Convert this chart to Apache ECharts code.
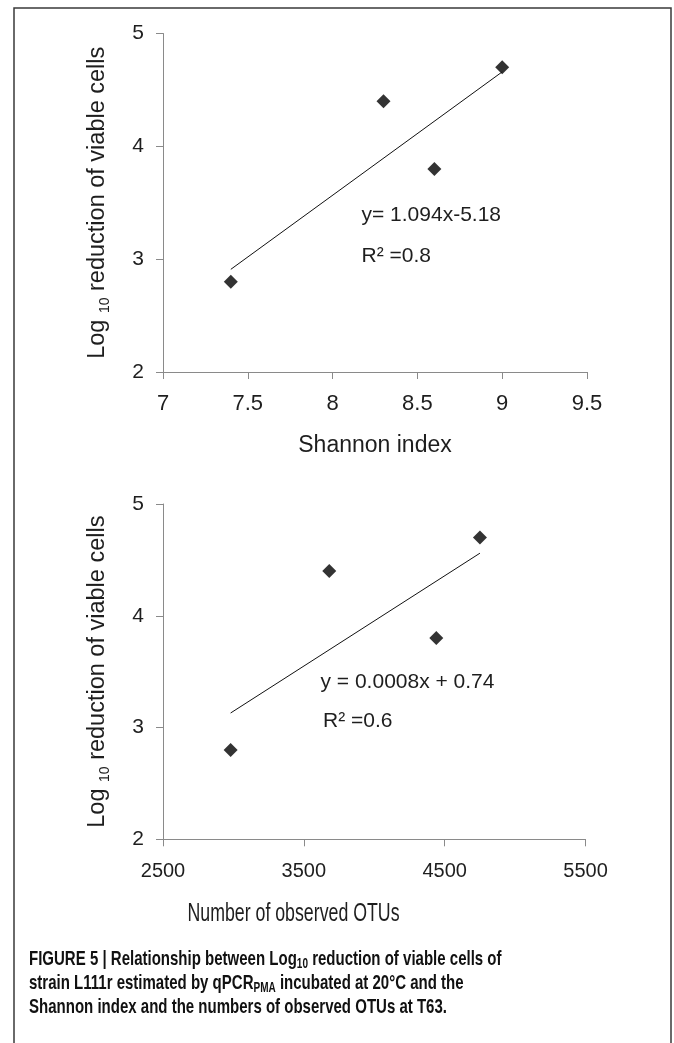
<!DOCTYPE html>
<html style="height: 100%">
<head>
    <meta charset="utf-8">
    <script src="https://cdn.jsdelivr.net/npm/echarts@6/dist/echarts.min.js"></script>
</head>
<body style="height: 100%; margin: 0; background: #fff">
<div id="fig" style="width: 674px; height: 1043px;"></div>
<script type="text/javascript">
    // top panel: Shannon index vs log10 reduction
    const shannonX = [7.4, 8.3, 8.6, 9.0];
    const reductionTop = [2.8, 4.4, 3.8, 4.7];
    const trendTopX = [7.4, 9.0];
    const trendTopY = [2.91, 4.66];
    const eqTop = ['y= 1.094x-5.18', 'R² =0.8'];

    // bottom panel: observed OTUs vs log10 reduction
    const otuX = [2980, 3680, 4440, 4750];
    const reductionBottom = [2.8, 4.4, 3.8, 4.7];
    const trendBottomX = [2980, 4750];
    const trendBottomY = [3.13, 4.56];
    const eqBottom = ['y = 0.0008x + 0.74', 'R² =0.6'];
    const otuTitle = 'Number of observed OTUs';

    const captionLines = [
        'FIGURE 5 | Relationship between Log{sub|10} reduction of viable cells of',
        'strain L111r estimated by qPCR{sub|PMA} incubated at 20°C and the',
        'Shannon index and the numbers of observed OTUs at T63.'
    ];

    const FONT = 'Liberation Sans, Arial, Helvetica, sans-serif';
    const TXT = '#1e1e1e';
    const AX = '#8a8a8a';

    function pairs(xs, ys) {
        let res = [];
        for (let i = 0; i < xs.length; i++) res.push([xs[i], ys[i]]);
        return res;
    }

    function yAxisFor(idx) {
        return {
            gridIndex: idx,
            type: 'value',
            min: 2, max: 5, interval: 1,
            name: 'Log {sub|10} reduction of viable cells',
            nameLocation: 'middle',
            nameGap: 51,
            nameTextStyle: {
                fontFamily: FONT, fontSize: 23.5, color: TXT, lineHeight: 28,
                rich: {sub: {fontFamily: FONT, fontSize: 14, color: TXT, lineHeight: 14, verticalAlign: 'bottom'}}
            },
            axisLine: {show: true, lineStyle: {color: AX, width: 1}},
            axisTick: {show: true, length: 7, lineStyle: {color: AX}},
            axisLabel: {fontFamily: FONT, fontSize: 21, color: TXT, margin: 19},
            splitLine: {show: false}
        };
    }

    const chart = echarts.init(document.getElementById('fig'), null, {renderer: 'canvas'});

    const option = {
        backgroundColor: '#fff',
        animation: false,
        grid: [
            {left: 163, top: 33.5, width: 424, height: 338.5},
            {left: 163, top: 504, width: 422.6, height: 335.3}
        ],
        xAxis: [{
            gridIndex: 0,
            type: 'value',
            min: 7, max: 9.5, interval: 0.5,
            name: 'Shannon index',
            nameLocation: 'middle',
            nameGap: 62,
            nameTextStyle: {fontFamily: FONT, fontSize: 23, color: TXT},
            axisLine: {lineStyle: {color: AX, width: 1}},
            axisTick: {length: 7, lineStyle: {color: AX}},
            axisLabel: {fontFamily: FONT, fontSize: 22, color: TXT, margin: 21},
            splitLine: {show: false}
        }, {
            gridIndex: 1,
            type: 'value',
            min: 2500, max: 5500, interval: 1000,
            axisLine: {lineStyle: {color: AX, width: 1}},
            axisTick: {length: 7, lineStyle: {color: AX}},
            axisLabel: {
                fontFamily: FONT, fontSize: 20, color: TXT, margin: 22,
                formatter: function (v) { return String(v); }
            },
            splitLine: {show: false}
        }],
        yAxis: [yAxisFor(0), yAxisFor(1)],
        series: [{
            name: 'trend top',
            type: 'line',
            xAxisIndex: 0, yAxisIndex: 0,
            data: pairs(trendTopX, trendTopY),
            showSymbol: false,
            lineStyle: {color: '#111', width: 1}
        }, {
            name: 'shannon',
            type: 'scatter',
            xAxisIndex: 0, yAxisIndex: 0,
            data: pairs(shannonX, reductionTop),
            symbol: 'diamond',
            symbolSize: 14,
            itemStyle: {color: '#000'}
        }, {
            name: 'trend bottom',
            type: 'line',
            xAxisIndex: 1, yAxisIndex: 1,
            data: pairs(trendBottomX, trendBottomY),
            showSymbol: false,
            lineStyle: {color: '#111', width: 1}
        }, {
            name: 'otus',
            type: 'scatter',
            xAxisIndex: 1, yAxisIndex: 1,
            data: pairs(otuX, reductionBottom),
            symbol: 'diamond',
            symbolSize: 14,
            itemStyle: {color: '#000'}
        }],
        graphic: []
    };

    // frame round the figure
    option.graphic.push({
        type: 'rect', z: 0, silent: true,
        shape: {x: 14, y: 8, width: 657, height: 1060},
        style: {fill: null, stroke: '#3a3a3a', lineWidth: 1.5}
    });

    // regression equations
    const eqText = function (txt, x, y) {
        return {
            type: 'text', x: x, y: y, silent: true,
            style: {text: txt, font: '21px ' + FONT, fill: TXT, verticalAlign: 'middle'}
        };
    };
    option.graphic.push(eqText(eqTop[0], 361.5, 215));
    option.graphic.push(eqText(eqTop[1], 361.5, 256));
    option.graphic.push(eqText(eqBottom[0], 320.5, 682));
    option.graphic.push(eqText(eqBottom[1], 323, 721));

    // bottom x-axis title is set in a condensed face
    option.graphic.push({
        type: 'text', x: 293.5, y: 914, scaleX: 0.71, silent: true,
        style: {text: otuTitle, fontFamily: FONT, fontSize: 25, fill: TXT, align: 'center', verticalAlign: 'middle'}
    });

    // caption, condensed bold face
    const capY = [959, 983.5, 1007.5];
    for (let i = 0; i < captionLines.length; i++) {
        option.graphic.push({
            type: 'text', x: 29, y: capY[i], scaleX: 0.715, silent: true,
            style: {
                text: captionLines[i],
                fontFamily: FONT, fontSize: 21, fontWeight: 'bold', fill: '#111',
                verticalAlign: 'middle', lineHeight: 24,
                rich: {sub: {fontFamily: FONT, fontSize: 14, fontWeight: 'bold', fill: '#111', lineHeight: 12, verticalAlign: 'bottom'}}
            }
        });
    }

    chart.setOption(option);
</script>
</body>
</html>
